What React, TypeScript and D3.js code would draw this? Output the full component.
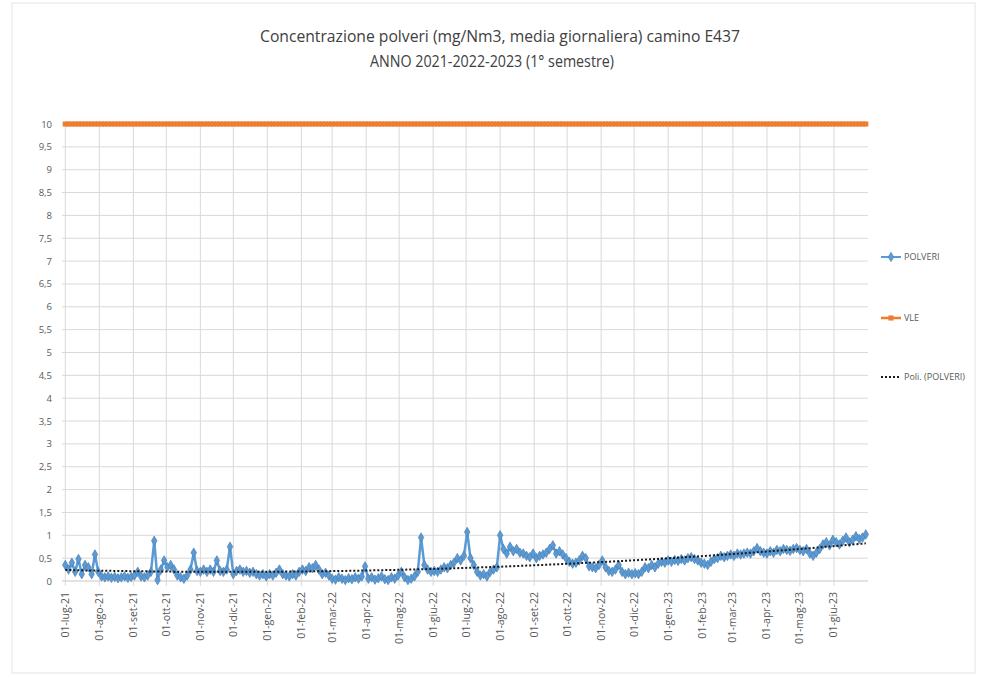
import React from "react";
import * as d3 from "d3";

// POLVERI daily mean concentration (mg/Nm3), sampled every 3 days from 01-lug-21
const startDate = "2021-07-01";
const stepDays = 3;
const polveri: number[] = [
  0.35, 0.25, 0.4, 0.2, 0.48, 0.15, 0.35, 0.3, 0.15, 0.58,
  0.2, 0.1, 0.08, 0.1, 0.07, 0.09, 0.06, 0.08, 0.1, 0.07,
  0.09, 0.12, 0.2, 0.1, 0.08, 0.12, 0.2, 0.88, 0.02, 0.25,
  0.45, 0.3, 0.35, 0.25, 0.12, 0.08, 0.05, 0.12, 0.25, 0.62,
  0.22, 0.2, 0.25, 0.2, 0.25, 0.2, 0.45, 0.22, 0.2, 0.25,
  0.75, 0.15, 0.22, 0.25, 0.2, 0.22, 0.18, 0.2, 0.15, 0.12,
  0.15, 0.1, 0.15, 0.12, 0.18, 0.25, 0.15, 0.12, 0.1, 0.15,
  0.12, 0.2, 0.25, 0.22, 0.3, 0.28, 0.35, 0.25, 0.15, 0.18,
  0.12, 0.05, 0.03, 0.08, 0.05, 0.02, 0.06, 0.04, 0.08, 0.05,
  0.1, 0.32, 0.05, 0.08, 0.03, 0.06, 0.1, 0.04, 0.02, 0.08,
  0.05, 0.12, 0.2, 0.08, 0.02, 0.05, 0.1, 0.2, 0.95, 0.35,
  0.25, 0.2, 0.22, 0.2, 0.25, 0.3, 0.28, 0.35, 0.4, 0.5,
  0.45, 0.55, 1.07, 0.5, 0.35, 0.2, 0.12, 0.15, 0.1, 0.2,
  0.25, 0.3, 1.0, 0.7, 0.6, 0.75, 0.65, 0.7, 0.62, 0.6,
  0.55, 0.52, 0.6, 0.5, 0.55, 0.58, 0.62, 0.7, 0.78, 0.6,
  0.65, 0.58, 0.5, 0.42, 0.38, 0.4, 0.45, 0.55, 0.5, 0.32,
  0.3, 0.28, 0.35, 0.45, 0.3, 0.22, 0.2, 0.25, 0.35, 0.2,
  0.15, 0.18, 0.15, 0.17, 0.15, 0.2, 0.3, 0.28, 0.35, 0.3,
  0.38, 0.42, 0.4, 0.45, 0.42, 0.46, 0.44, 0.48, 0.45, 0.5,
  0.52, 0.48, 0.45, 0.4, 0.38, 0.35, 0.42, 0.48, 0.5, 0.55,
  0.52, 0.55, 0.58, 0.55, 0.6, 0.58, 0.6, 0.62, 0.6, 0.65,
  0.72, 0.65, 0.62, 0.6, 0.65, 0.62, 0.68, 0.65, 0.7, 0.68,
  0.66, 0.7, 0.72, 0.68, 0.65, 0.7, 0.6, 0.55, 0.62, 0.7,
  0.8, 0.85, 0.78, 0.9, 0.85, 0.8, 0.88, 0.95, 0.85, 0.9,
  0.98, 0.92, 0.95, 1.02,
];
const vleLimit = 10;
const yTicks: number[] = [0, 0.5, 1, 1.5, 2, 2.5, 3, 3.5, 4, 4.5, 5, 5.5, 6, 6.5, 7, 7.5, 8, 8.5, 9, 9.5, 10];
const monthNames: string[] = ["gen", "feb", "mar", "apr", "mag", "giu", "lug", "ago", "set", "ott", "nov", "dic"];
const titleLines: string[] = [
  "Concentrazione polveri (mg/Nm3, media giornaliera) camino E437",
  "ANNO 2021-2022-2023 (1° semestre)",
];
const legendLabels: string[] = ["POLVERI", "VLE", "Poli. (POLVERI)"];

const W = 982;
const H = 687;
const FONT = "'Open Sans', sans-serif";

export default function App() {
  const parse = d3.utcParse("%Y-%m-%d");
  const d0 = parse(startDate) as Date;
  const dates = polveri.map((_, i) => d3.utcDay.offset(d0, i * stepDays));
  const data = polveri.map((v, i) => ({ date: dates[i], v }));

  const x = d3
    .scaleUtc()
    .domain([d3.utcDay.offset(d0, -3), d3.utcDay.offset(parse("2023-06-30") as Date, 2)])
    .range([62, 868]);
  const y = d3.scaleLinear().domain([0, 10]).range([581, 124]);

  const months = d3.utcMonth.range(d0, parse("2023-06-02") as Date);
  const fmtMonth = (d: Date) =>
    `01-${monthNames[d.getUTCMonth()]}-${String(d.getUTCFullYear()).slice(2)}`;
  const fmtY = (v: number) => String(v).replace(".", ",");

  // polynomial (order 2) trend by least squares
  const n = data.length;
  const xs = data.map((_, i) => i / (n - 1));
  const sums = [0, 0, 0, 0, 0];
  const sy = [0, 0, 0];
  xs.forEach((t, i) => {
    for (let k = 0; k < 5; k++) sums[k] += Math.pow(t, k);
    for (let k = 0; k < 3; k++) sy[k] += Math.pow(t, k) * polveri[i];
  });
  const A = [
    [sums[0], sums[1], sums[2], sy[0]],
    [sums[1], sums[2], sums[3], sy[1]],
    [sums[2], sums[3], sums[4], sy[2]],
  ];
  for (let c = 0; c < 3; c++) {
    for (let r = c + 1; r < 3; r++) {
      const f = A[r][c] / A[c][c];
      for (let k = c; k < 4; k++) A[r][k] -= f * A[c][k];
    }
  }
  const coef = [0, 0, 0];
  for (let r = 2; r >= 0; r--) {
    let s = A[r][3];
    for (let k = r + 1; k < 3; k++) s -= A[r][k] * coef[k];
    coef[r] = s / A[r][r];
  }
  const trend = xs.map((t, i) => ({ date: dates[i], v: coef[0] + coef[1] * t + coef[2] * t * t }));

  const line = d3
    .line<{ date: Date; v: number }>()
    .x((d) => x(d.date))
    .y((d) => y(d.v));

  const diamond = d3.symbol().type(d3.symbolDiamond).size(26)() as string;
  const square = d3.symbol().type(d3.symbolSquare).size(26)() as string;

  const vleData = dates.map((d) => ({ date: d, v: vleLimit }));

  const grid = "#d9d9d9";
  const textCol = "#595959";

  return (
    <svg width={W} height={H} style={{ position: "absolute", left: 0, top: 0 }} fontFamily={FONT}>
      <rect x={0} y={0} width={W} height={H} fill="#fff" />
      <rect x={12} y={3} width={963} height={670} fill="none" stroke="#e3e3e3" />
      {/* title */}
      <text x={500} y={42} textAnchor="middle" fontSize={17} fill="#404040" textLength={480} lengthAdjust="spacingAndGlyphs">
        {titleLines[0]}
      </text>
      <text x={492} y={67} textAnchor="middle" fontSize={17} fill="#404040" textLength={244} lengthAdjust="spacingAndGlyphs">
        {titleLines[1]}
      </text>
      {/* horizontal grid */}
      {yTicks.map((t) => (
        <g key={"y" + t}>
          <line x1={62} x2={868} y1={y(t)} y2={y(t)} stroke={grid} strokeWidth={1} />
          <text x={52} y={y(t) + 3.5} textAnchor="end" fontSize={9.5} fill={textCol}>
            {fmtY(t)}
          </text>
        </g>
      ))}
      {/* vertical grid + labels */}
      {months.map((m) => (
        <g key={m.toISOString()}>
          <line x1={x(m)} x2={x(m)} y1={124} y2={586} stroke={grid} strokeWidth={1} />
          <text
            transform={`translate(${x(m) + 3.5},${592}) rotate(-90)`}
            textAnchor="end"
            fontSize={10.5}
            fill={textCol}
          >
            {fmtMonth(m)}
          </text>
        </g>
      ))}
      <line x1={62} x2={868} y1={581} y2={581} stroke={grid} />
      {/* VLE */}
      <path d={line(vleData) as string} fill="none" stroke="#ED7D31" strokeWidth={3} />
      {vleData.map((d, i) => (
        <path key={"v" + i} d={square} transform={`translate(${x(d.date)},${y(d.v)})`} fill="#ED7D31" />
      ))}
      {/* POLVERI */}
      <path d={line(data) as string} fill="none" stroke="#5B9BD5" strokeWidth={2.5} />
      {data.map((d, i) => (
        <path
          key={"p" + i}
          d={diamond}
          transform={`translate(${x(d.date)},${y(d.v)})`}
          fill="#5B9BD5"
          stroke="#4a7fb5"
          strokeWidth={0.7}
        />
      ))}
      {/* trend */}
      <path d={line(trend) as string} fill="none" stroke="#1a1a1a" strokeWidth={2} strokeDasharray="2,2" />
      {/* legend */}
      <g fontSize={9} fill={textCol}>
        <line x1={881} x2={901} y1={257} y2={257} stroke="#5B9BD5" strokeWidth={2} />
        <path d={diamond} transform="translate(891,257)" fill="#5B9BD5" stroke="#4a7fb5" strokeWidth={0.6} />
        <text x={904} y={260}>{legendLabels[0]}</text>
        <line x1={881} x2={901} y1={318} y2={318} stroke="#ED7D31" strokeWidth={2.5} />
        <path d={square} transform="translate(891,318)" fill="#ED7D31" />
        <text x={904} y={321}>{legendLabels[1]}</text>
        <line x1={881} x2={901} y1={377} y2={377} stroke="#1a1a1a" strokeWidth={2} strokeDasharray="2,2" />
        <text x={904} y={380}>{legendLabels[2]}</text>
      </g>
    </svg>
  );
}
